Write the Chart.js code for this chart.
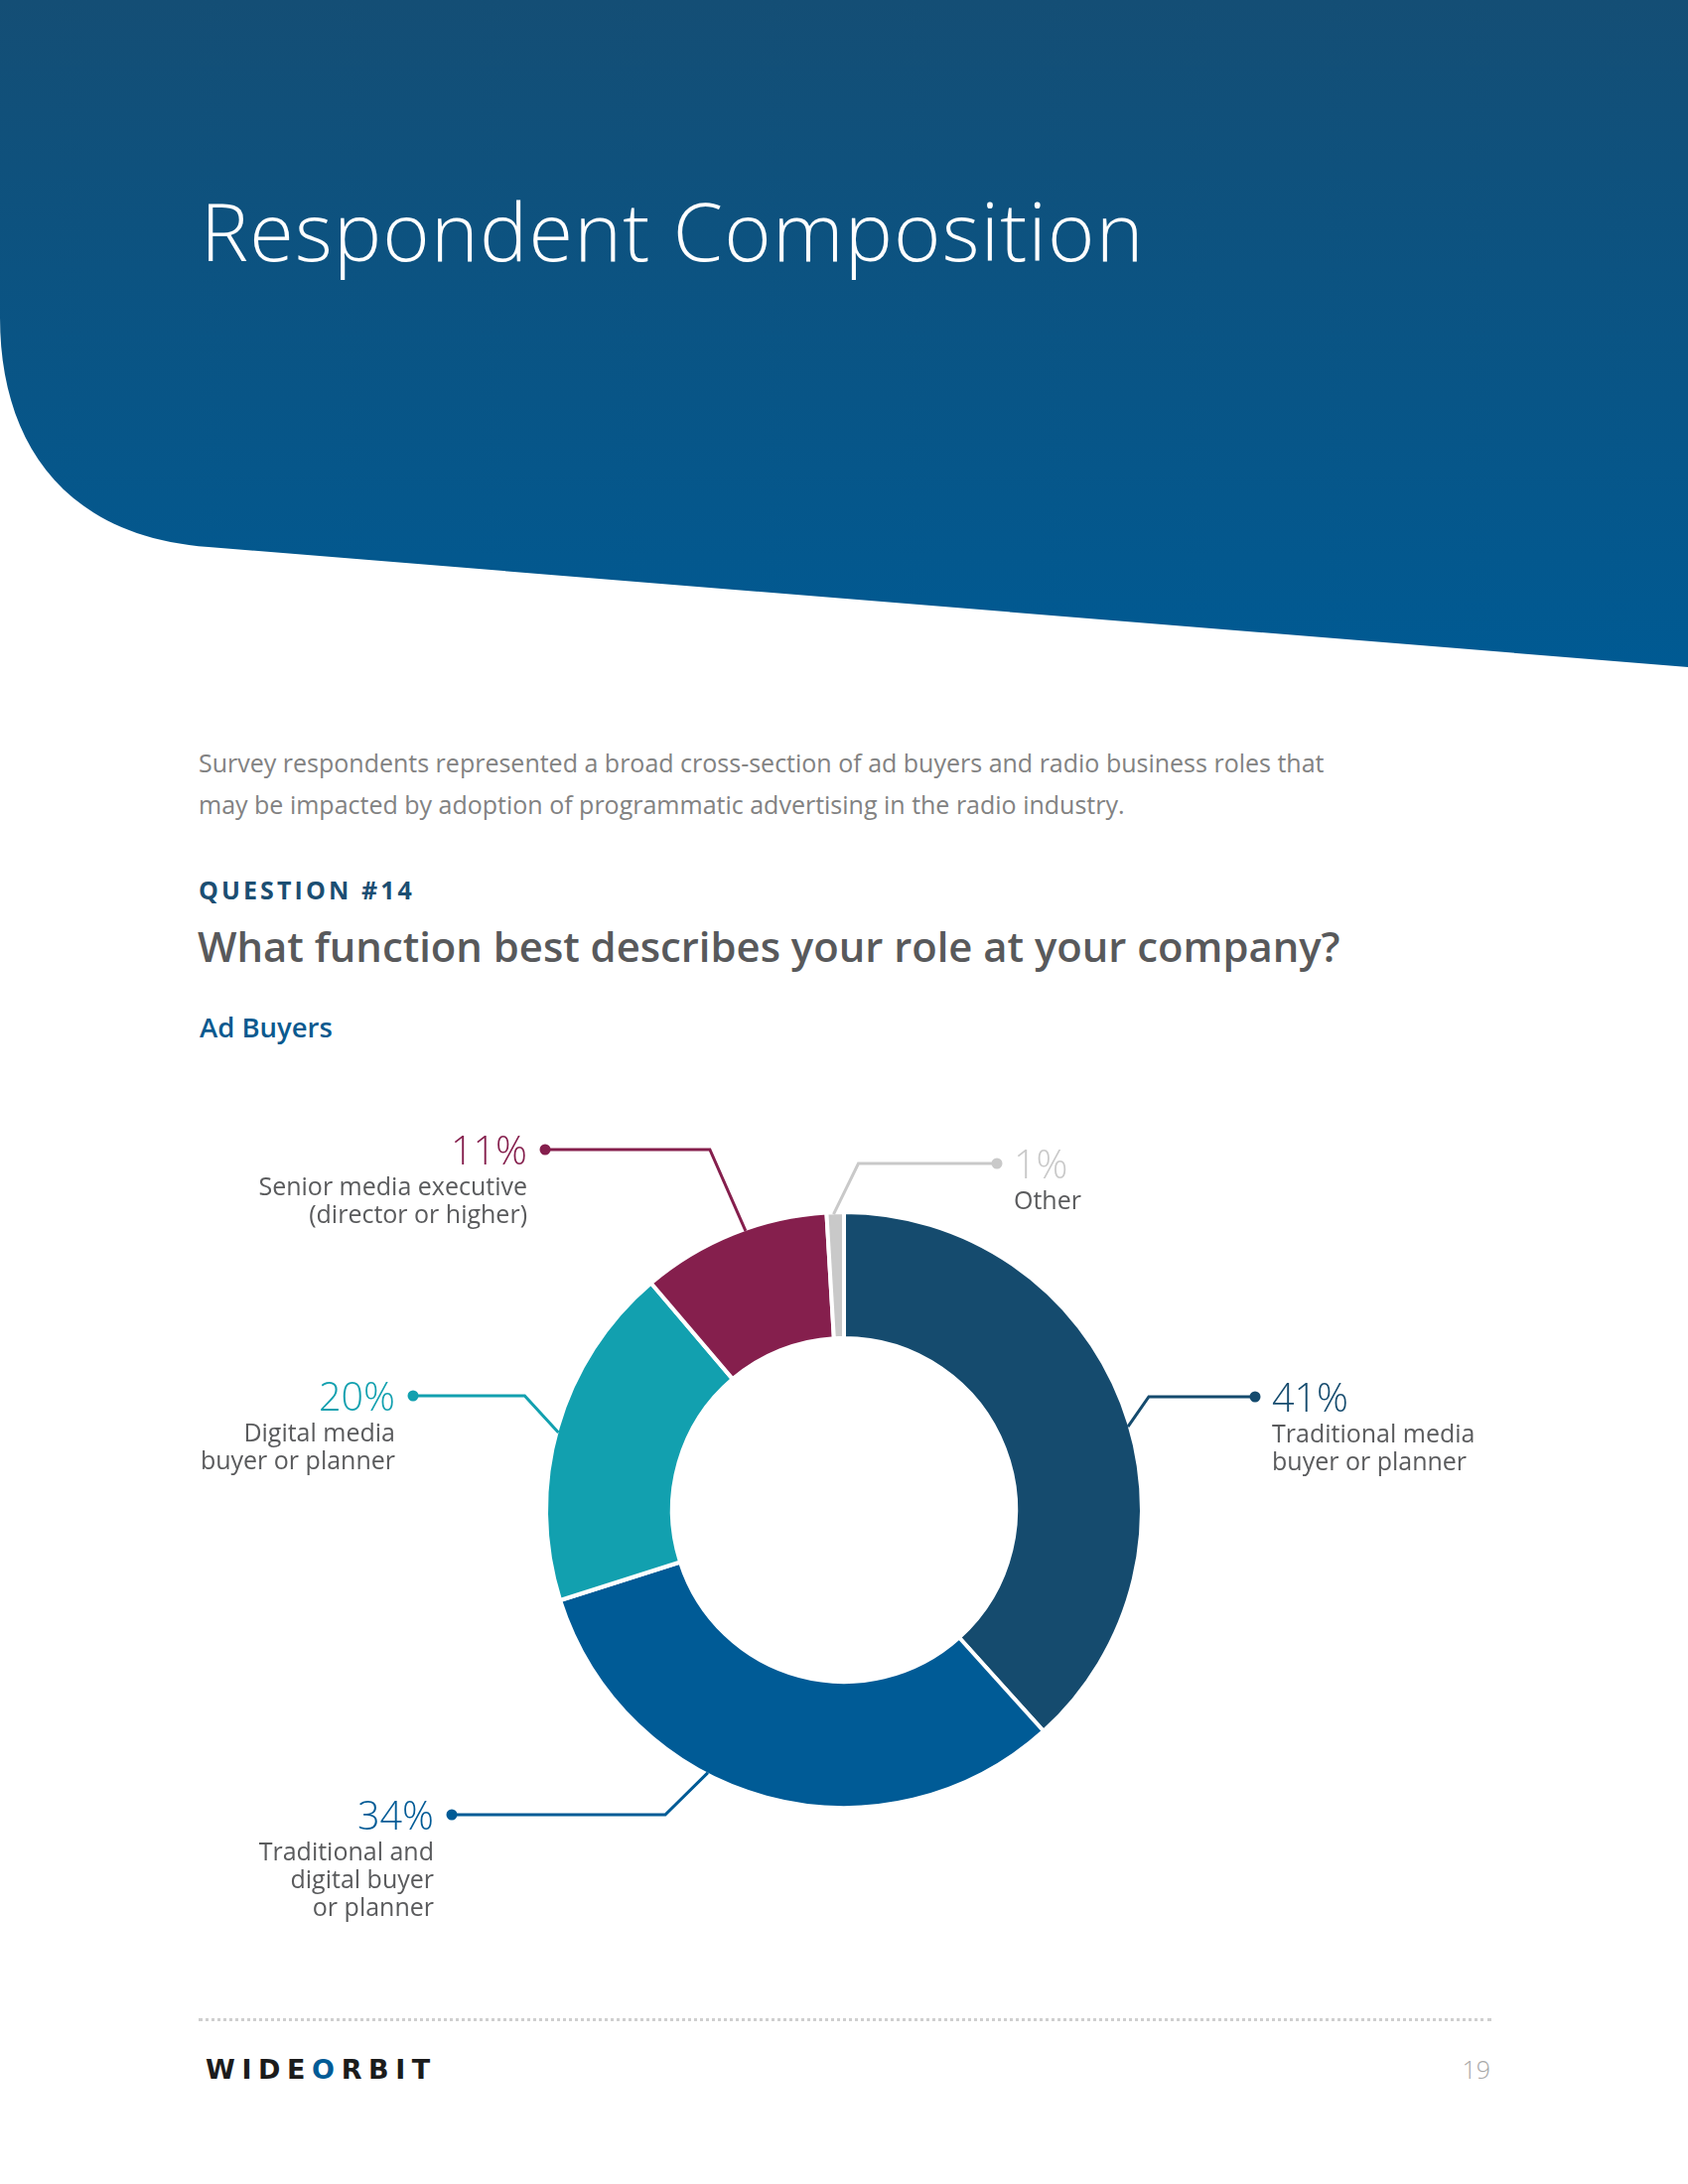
<!DOCTYPE html>
<html lang="en">
<head>
  <meta charset="UTF-8">
  <title>Respondent Composition</title>
  <style>
    body {
      margin: 0;
      width: 1700px;
      height: 2200px;
      position: relative;
      background: #fff;
      font-family: 'Open Sans', 'Noto Sans', sans-serif;
      overflow: hidden;
    }
    .abs { position: absolute; white-space: nowrap; }
    #header { position: absolute; left: 0; top: 0; }
    h1 {
      margin: 0;
      left: 202px;
      top: 176px;
      font-size: 81px;
      font-weight: 300;
      letter-spacing: 1.2px;
      color: #fff;
      line-height: normal;
    }
    .intro {
      left: 200px;
      top: 747px;
      font-size: 25px;
      line-height: 42px;
      color: #828282;
      font-weight: 400;
    }
    .question {
      left: 200px;
      top: 879px;
      font-size: 25px;
      font-weight: 700;
      letter-spacing: 3.1px;
      color: #1b4e72;
      line-height: normal;
    }
    .ask {
      left: 199px;
      top: 924px;
      font-size: 41.8px;
      font-weight: 600;
      color: #58595b;
      line-height: normal;
    }
    .group {
      left: 201px;
      top: 1016px;
      font-size: 27.5px;
      font-weight: 600;
      color: #0b5a8f;
      line-height: normal;
    }
    .chart-box {
      position: absolute;
      left: 0;
      top: 1100px;
      width: 1700px;
      height: 900px;
    }
    .rule {
      position: absolute;
      left: 200px;
      top: 2033px;
      width: 1302px;
      border-top: 3px dotted #cfcfcf;
    }
    .logo {
      left: 207px;
      top: 2069px;
      font-family: 'DejaVu Sans', sans-serif;
      font-size: 27px;
      font-weight: 700;
      letter-spacing: 6.6px;
      color: #1c1c1c;
      line-height: normal;
    }
    .logo .o { color: #005b96; }
    .page-num {
      right: 199px;
      top: 2067px;
      font-size: 25px;
      font-weight: 300;
      color: #a8a8a8;
      line-height: normal;
    }
  </style>
</head>
<body>
  <svg id="header" width="1700" height="680" viewBox="0 0 1700 680">
    <defs>
      <linearGradient id="band" x1="0" y1="0" x2="0" y2="1">
        <stop offset="0" stop-color="#144e75"/>
        <stop offset="1" stop-color="#005a93"/>
      </linearGradient>
    </defs>
    <path d="M0,0 L1700,0 L1700,672 L210,551 C60,540 0,440 0,320 Z" fill="url(#band)"/>
  </svg>

  <h1 class="abs">Respondent Composition</h1>
  <div class="abs intro">Survey respondents represented a broad cross-section of ad buyers and radio business roles that<br>may be impacted by adoption of programmatic advertising in the radio industry.</div>
  <div class="abs question">QUESTION #14</div>
  <div class="abs ask">What function best describes your role at your company?</div>
  <div class="abs group">Ad Buyers</div>

  <div class="chart-box">
    <canvas id="roleChart"></canvas>
  </div>

  <div class="rule"></div>
  <div class="abs logo">WIDE<span class="o">O</span>RBIT</div>
  <div class="abs page-num">19</div>

  <script src="https://cdn.jsdelivr.net/npm/chart.js"></script>
  <script>
    // data
    const categories = [
      'Traditional media buyer or planner',
      'Traditional and digital buyer or planner',
      'Digital media buyer or planner',
      'Senior media executive (director or higher)',
      'Other'
    ];
    const shares = [41, 34, 20, 11, 1];
    const labelLines = [
      ['Traditional media', 'buyer or planner'],
      ['Traditional and', 'digital buyer', 'or planner'],
      ['Digital media', 'buyer or planner'],
      ['Senior media executive', '(director or higher)'],
      ['Other']
    ];
    const sliceColors = ['#154b6e', '#005b96', '#12a0af', '#851f4d', '#c9c9c9'];

    // where each callout sits, relative to the donut centre
    const callouts = [
      { frac: 0.534, elbowDx: 21,  rowDy: -114, dotDx: 414,  side: 'right' },
      { frac: 0.607, elbowDx: -43, rowDy: 307,  dotDx: -395, side: 'left' },
      { frac: 0.488, elbowDx: -34, rowDy: -115, dotDx: -434, side: 'left' },
      { frac: 0.566, elbowDx: -36, rowDy: -363, dotDx: -301, side: 'left' },
      { frac: 0.4,   elbowDx: 25,  rowDy: -349, dotDx: 154,  side: 'right' }
    ];

    const calloutPlugin = {
      id: 'callouts',
      afterDraw(chart) {
        const ctx = chart.ctx;
        const arcs = chart.getDatasetMeta(0).data;
        arcs.forEach((arc, i) => {
          const c = callouts[i];
          const color = sliceColors[i];
          const a = arc.startAngle + c.frac * (arc.endAngle - arc.startAngle);
          const r = arc.outerRadius - 2;
          const px = arc.x + r * Math.cos(a);
          const py = arc.y + r * Math.sin(a);
          const rowY = arc.y + c.rowDy;
          const dotX = arc.x + c.dotDx;

          ctx.save();
          ctx.strokeStyle = color;
          ctx.lineWidth = 3;
          ctx.lineJoin = 'miter';
          ctx.beginPath();
          ctx.moveTo(px, py);
          ctx.lineTo(px + c.elbowDx, rowY);
          ctx.lineTo(dotX, rowY);
          ctx.stroke();
          ctx.fillStyle = color;
          ctx.beginPath();
          ctx.arc(dotX, rowY, 5.5, 0, Math.PI * 2);
          ctx.fill();

          const right = c.side === 'right';
          const tx = right ? dotX + 17 : dotX - 18;
          ctx.textAlign = right ? 'left' : 'right';
          ctx.textBaseline = 'alphabetic';
          ctx.font = "300 39.5px 'Open Sans'";
          ctx.fillStyle = color;
          ctx.fillText(shares[i] + '%', tx, rowY + 15);
          ctx.font = "400 25px 'Open Sans'";
          ctx.fillStyle = '#5a5b5d';
          labelLines[i].forEach((line, k) => {
            ctx.fillText(line, tx, rowY + 46 + k * 28);
          });
          ctx.restore();
        });
      }
    };

    new Chart(document.getElementById('roleChart'), {
      type: 'doughnut',
      data: {
        labels: categories,
        datasets: [{
          data: shares,
          backgroundColor: sliceColors,
          borderColor: '#ffffff',
          borderWidth: 4,
          borderAlign: 'center',
          hoverOffset: 0
        }]
      },
      options: {
        responsive: true,
        maintainAspectRatio: false,
        animation: false,
        events: [],
        cutout: '57.7%',
        layout: { padding: { top: 119, bottom: 177, left: 0, right: 0 } },
        plugins: {
          legend: { display: false },
          tooltip: { enabled: false }
        }
      },
      plugins: [calloutPlugin]
    });
  </script>
</body>
</html>
